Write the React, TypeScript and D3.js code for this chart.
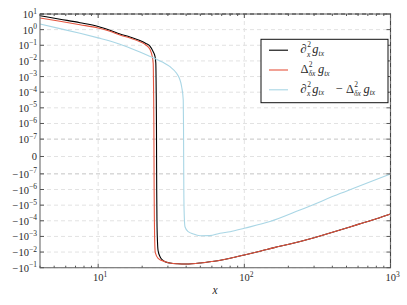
import React from "react";
import * as d3 from "d3";

// size of the picture and the axes box
const W = 407;
const H = 305;
const X0 = 40;
const X1 = 390.5;
const Y0 = 14;
const Y1 = 267.7;

// symlog like matplotlib: linthresh 1e-7, linscale 1
const LINTHRESH = 1e-7;
const LINSCALE = 1 / (1 - 1 / 10);
const symlog = (v: number) => {
  const a = Math.abs(v);
  const s = Math.sign(v);
  if (a <= LINTHRESH) return s * (a / LINTHRESH) * LINSCALE;
  return s * (LINSCALE + Math.log10(a / LINTHRESH));
};

const xDomain = [4, 1000];
const yDomain = [-1e-1, 1e1];

// d2x g  (analytic)
const exactX = [4, 5.48, 7.51, 10, 12.04, 14.1, 16.5, 19.3, 21.2, 22.6, 23.8, 24.5, 24.8, 24.95, 25.05, 25.1, 25.15, 25.25, 25.45, 25.7, 26.5, 27.5, 28.7, 31, 35, 40, 50, 60, 70, 80, 100, 130, 160, 205, 300, 451, 600, 800, 1000];
const exactY = [7.8, 4.64, 2.77, 1.585, 0.906, 0.526, 0.338, 0.2, 0.13, 0.089, 0.0388, 0.0186, 0.007, 1e-4, 1e-6, 0, -1e-6, -1e-4, -0.002, -0.008, -0.0198, -0.032, -0.041, -0.05, -0.056, -0.058, -0.05, -0.04, -0.032, -0.025, -0.0154, -0.0085, -0.0052, -0.00305, -0.0012, -0.00039, -0.00017, -0.000075, -0.000037];

// finite difference
const fdX = [4, 5.48, 7.51, 10, 12.04, 14.1, 16.5, 19.3, 21.2, 22.6, 23.45, 23.8, 23.95, 24.05, 24.1, 24.15, 24.25, 24.4, 24.6, 25.7, 28.7, 31, 35, 40, 50, 60, 70, 80, 100, 130, 160, 205, 300, 451, 600, 800, 1000];
const fdY = [5.53, 3.4, 2.07, 1.28, 0.78, 0.453, 0.29, 0.169, 0.104, 0.0552, 0.0186, 0.007, 1e-4, 1e-6, 0, -1e-6, -1e-4, -0.003, -0.011, -0.025, -0.041, -0.05, -0.056, -0.058, -0.05, -0.04, -0.032, -0.025, -0.0154, -0.0085, -0.0052, -0.00305, -0.0012, -0.00039, -0.00017, -0.000075, -0.000037];

// difference
const diffX = [4, 5.48, 7.51, 10, 12.04, 14.1, 16.5, 19.3, 21.9, 24.5, 27.75, 31, 34.4, 36, 37.25, 38.2, 38.35, 38.45, 38.55, 38.75, 39.25, 41.33, 44.7, 49.7, 58, 68.1, 80, 100, 149.7, 240, 451, 1000];
const diffY = [2.3, 1.16, 0.58, 0.296, 0.187, 0.115, 0.066, 0.0366, 0.0222, 0.01426, 0.00815, 0.00427, 0.00161, 0.00075, 0.000224, 0.000032, 1e-6, 0, -1e-6, -0.00003, -0.00024, -0.0005, -0.0007, -0.0009, -0.00089, -0.00063, -0.0005, -0.0003, -0.000112, -0.0000205, -0.00000183, -0.0000001];

const posExp = [1, 0, -1, -2, -3, -4, -5, -6, -7];
const negExp = [-7, -6, -5, -4, -3, -2, -1];
const xTickExp = [1, 2, 3];

const seriesColors = ["#000000", "#e5553f", "#a9d6e5"];

const xScale = d3.scaleLog().domain(xDomain).range([X0, X1]);
const yLin = d3.scaleLinear().domain(yDomain.map(symlog)).range([Y1, Y0]);
const yScale = (v: number) => yLin(symlog(v));

const series = [
  { xs: exactX, ys: exactY, color: seriesColors[0] },
  { xs: fdX, ys: fdY, color: seriesColors[1] },
  { xs: diffX, ys: diffY, color: seriesColors[2] },
];

const line = d3
  .line<[number, number]>()
  .x((d) => xScale(d[0]))
  .y((d) => yScale(d[1]))
  .curve(d3.curveMonotoneX);

const serif = "Liberation Serif, DejaVu Serif, serif";
const txt = "#2a2a2a";
const SUB = 7.5;
const FS = 12.5;

function Pow({ x, y, neg, exp, anchor }: { x: number; y: number; neg?: boolean; exp: number; anchor: string }) {
  return (
    <text x={x} y={y} textAnchor={anchor} style={{ fontFamily: serif }} fontSize={10.5} fill={txt}>
      {neg ? "\u221210" : "10"}
      <tspan dy={-4.5} fontSize={7.5}>
        {exp < 0 ? "\u2212" + -exp : String(exp)}
      </tspan>
    </text>
  );
}

// one math label: base symbol, stacked ^2 and _sub, then g_tx
function Term({ x, y, sym, sub, italicSym }: { x: number; y: number; sym: string; sub: string; italicSym: boolean }) {
  const symW = sym === "∂" ? 6.8 : 8.2;
  const supW = 4.2;
  const subW = sub.length * 4.2;
  const gx = x + symW + Math.max(supW, subW) + 0.8;
  return (
    <>
      <text x={x} y={y} style={{ fontFamily: serif }} fontStyle={italicSym ? "italic" : "normal"} fontSize={FS} fill={txt}>
        {sym}
      </text>
      <text x={x + symW} y={y - 5.8} style={{ fontFamily: serif }} fontSize={SUB} fill={txt}>
        2
      </text>
      <text x={x + symW - 0.3} y={y + 3.4} style={{ fontFamily: serif }} fontStyle="italic" fontSize={SUB} fill={txt}>
        {sub}
      </text>
      <text x={gx} y={y} style={{ fontFamily: serif }} fontStyle="italic" fontSize={FS} fill={txt}>
        g
        <tspan dy={2.5} fontSize={SUB}>tx</tspan>
      </text>
    </>
  );
}

export default function App() {
  const minorX: number[] = [];
  for (let d = 1; d <= 100; d *= 10) {
    for (let k = 1; k < 10; k++) {
      const v = d * k;
      if (v >= xDomain[0] && v <= xDomain[1]) minorX.push(v);
    }
  }
  minorX.push(1000);
  const yTickVals = [...posExp.map((e) => Math.pow(10, e)), 0, ...negExp.map((e) => -Math.pow(10, e))];

  const legendRows = [0, 1, 2].map((i) => 50.2 + i * 19.8);

  return (
    <svg width={W} height={H} style={{ position: "absolute", left: 0, top: 0, background: "#fff" }}>
      {/* grid */}
      {yTickVals.map((v, i) => (
        <line
          key={"gy" + i}
          x1={X0}
          x2={X1}
          y1={yScale(v)}
          y2={yScale(v)}
          stroke={Math.abs(v) === 1e-7 ? "#c4c4c4" : "#e2e2e2"}
          strokeWidth={1}
          strokeDasharray="4,3"
        />
      ))}
      {xTickExp.slice(0, 2).map((e) => (
        <line
          key={"gx" + e}
          x1={xScale(Math.pow(10, e))}
          x2={xScale(Math.pow(10, e))}
          y1={Y0}
          y2={Y1}
          stroke="#e2e2e2"
          strokeDasharray="4,3"
        />
      ))}

      {/* curves */}
      {series.map((s, i) => (
        <path
          key={"s" + i}
          d={line(s.xs.map((x, j) => [x, s.ys[j]] as [number, number])) || ""}
          fill="none"
          stroke={s.color}
          strokeWidth={1.1}
        />
      ))}

      {/* spines */}
      <rect x={X0} y={Y0} width={X1 - X0} height={Y1 - Y0} fill="none" stroke="#777" strokeWidth={1.2} />
      <line x1={X0} x2={X1} y1={Y0} y2={Y0} stroke="#444" strokeDasharray="4,3" />
      <line x1={X1} x2={X1} y1={Y0} y2={Y1} stroke="#444" strokeDasharray="4,3" />

      {/* x ticks */}
      {minorX.map((v) => {
        const major = Math.abs(Math.log10(v) - Math.round(Math.log10(v))) < 1e-9;
        const L = major ? 4 : 2;
        const px = xScale(v);
        return (
          <g key={"tx" + v}>
            <line x1={px} x2={px} y1={Y1} y2={Y1 - L} stroke="#555" />
            <line x1={px} x2={px} y1={Y0} y2={Y0 + L} stroke="#555" />
          </g>
        );
      })}
      {/* y ticks */}
      {yTickVals.map((v, i) => (
        <g key={"ty" + i}>
          <line x1={X0} x2={X0 + 4} y1={yScale(v)} y2={yScale(v)} stroke="#555" />
          <line x1={X1} x2={X1 - 4} y1={yScale(v)} y2={yScale(v)} stroke="#555" />
        </g>
      ))}

      {/* y tick labels */}
      {posExp.map((e) => (
        <Pow key={"py" + e} x={37} y={yScale(Math.pow(10, e)) + 4} exp={e} anchor="end" />
      ))}
      <text x={37} y={yScale(0) + 3.5} textAnchor="end" style={{ fontFamily: serif }} fontSize={10.5} fill={txt}>
        0
      </text>
      {negExp.map((e) => (
        <Pow key={"ny" + e} x={37} y={yScale(-Math.pow(10, e)) + 4} exp={e} neg anchor="end" />
      ))}

      {/* x tick labels */}
      {xTickExp.map((e) => (
        <Pow key={"xl" + e} x={xScale(Math.pow(10, e)) + 2} y={281} exp={e} anchor="middle" />
      ))}
      <text x={215} y={294} textAnchor="middle" style={{ fontFamily: serif }} fontStyle="italic" fontSize={11.5} fill={txt}>
        x
      </text>

      {/* legend */}
      <rect x={261} y={39.3} width={127} height={63.4} fill="#fff" stroke="#111" strokeWidth={1} />
      {legendRows.map((y, i) => (
        <line key={"ll" + i} x1={269} x2={288} y1={y} y2={y} stroke={seriesColors[i]} strokeWidth={1.1} />
      ))}
      <Term x={300.5} y={legendRows[0] + 3} sym="∂" sub="x" italicSym />
      <Term x={300.5} y={legendRows[1] + 3} sym="Δ" sub="δx" italicSym={false} />
      <Term x={300.5} y={legendRows[2] + 3} sym="∂" sub="x" italicSym />
      <text x={335.5} y={legendRows[2] + 3} style={{ fontFamily: serif }} fontSize={FS} fill={txt}>
        {"\u2212"}
      </text>
      <Term x={346} y={legendRows[2] + 3} sym="Δ" sub="δx" italicSym={false} />
    </svg>
  );
}
